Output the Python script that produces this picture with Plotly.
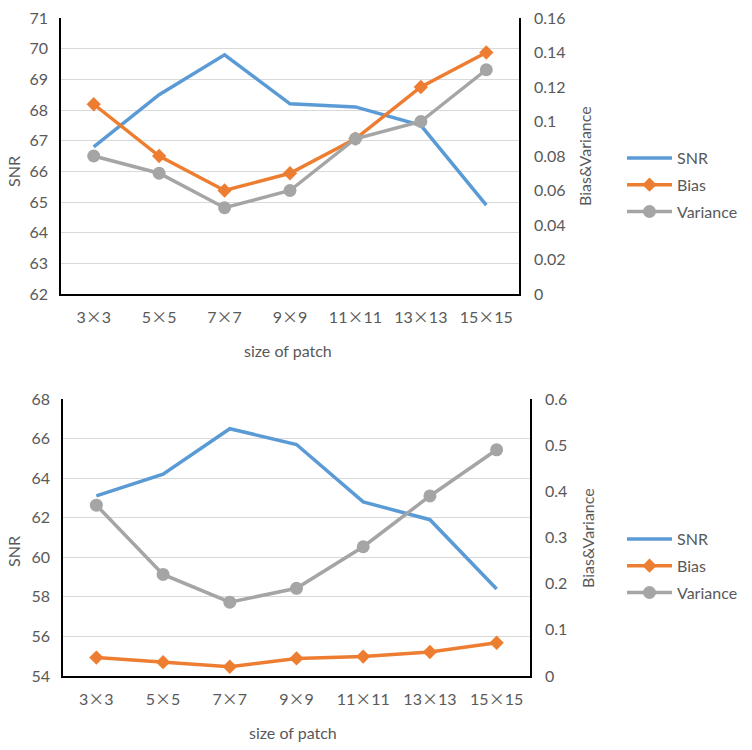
import plotly.graph_objects as go

categories = ["3×3", "5×5", "7×7", "9×9", "11×11", "13×13", "15×15"]

# top chart
snr_top = [66.8, 68.5, 69.8, 68.2, 68.1, 67.5, 64.9]
bias_top = [0.11, 0.08, 0.06, 0.07, 0.09, 0.12, 0.14]
var_top = [0.08, 0.07, 0.05, 0.06, 0.09, 0.10, 0.13]

# bottom chart
snr_bot = [63.1, 64.2, 66.5, 65.7, 62.8, 61.9, 58.4]
bias_bot = [0.04, 0.03, 0.02, 0.038, 0.042, 0.052, 0.072]
var_bot = [0.37, 0.22, 0.16, 0.19, 0.28, 0.39, 0.49]

BLUE = "#5B9BD5"
ORANGE = "#ED7D31"
GRAY = "#A5A5A5"
TXT = "#595959"
GRID = "#D9D9D9"
FONT = "Lato, Open Sans, sans-serif"

# tick labels: the multiplication sign rendered with a CJK (full-width) font
ticktext = [c.replace("×", "<span style='font-family:Noto Sans CJK SC'>×</span>") for c in categories]

fig = go.Figure()

def add_set(xa, ya_left, ya_right, snr, bias, var, legend):
    fig.add_trace(go.Scatter(x=categories, y=snr, xaxis=xa, yaxis=ya_left, name="SNR",
                             mode="lines", line=dict(color=BLUE, width=3.5),
                             legend=legend, legendgroup=legend + "a"))
    fig.add_trace(go.Scatter(x=categories, y=bias, xaxis=xa, yaxis=ya_right, name="Bias",
                             mode="lines+markers", line=dict(color=ORANGE, width=3.5),
                             marker=dict(symbol="diamond", size=11, color=ORANGE),
                             legend=legend, legendgroup=legend + "b"))
    fig.add_trace(go.Scatter(x=categories, y=var, xaxis=xa, yaxis=ya_right, name="Variance",
                             mode="lines+markers", line=dict(color=GRAY, width=3.5),
                             marker=dict(symbol="circle", size=13, color=GRAY),
                             legend=legend, legendgroup=legend + "c"))

add_set("x", "y", "y2", snr_top, bias_top, var_top, "legend")
add_set("x2", "y3", "y4", snr_bot, bias_bot, var_bot, "legend2")

tickfont = dict(family=FONT, size=16, color=TXT)

xcommon = dict(type="category", range=[-0.5, 6.5], showline=True, linecolor="black",
               linewidth=1.5, showgrid=False, tickfont=tickfont, ticks="",
               tickmode="array", tickvals=categories, ticktext=ticktext,
               ticklabelstandoff=8, zeroline=False, automargin=False)
ycommon = dict(showline=True, linecolor="black", linewidth=1.5, tickfont=tickfont,
               ticks="", zeroline=False, automargin=False)

top_x = [61 / 752, 519 / 752]
top_y = [1 - 294 / 750, 1 - 18 / 750]
bot_x = [63 / 752, 530 / 752]
bot_y = [1 - 676 / 750, 1 - 399 / 750]

fig.update_layout(
    width=752, height=750,
    margin=dict(l=0, r=0, t=0, b=0, autoexpand=False),
    paper_bgcolor="white", plot_bgcolor="white",
    font=dict(family=FONT, size=16, color=TXT),
    xaxis=dict(domain=top_x, anchor="y", **xcommon),
    yaxis=dict(domain=top_y, anchor="x", range=[62, 71], dtick=1, tick0=62,
               showgrid=True, gridcolor=GRID, gridwidth=1, ticklabelstandoff=8, **ycommon),
    yaxis2=dict(overlaying="y", side="right", anchor="x", range=[0, 0.16], dtick=0.02, tick0=0,
                showgrid=False, ticklabelstandoff=10, **ycommon),
    xaxis2=dict(domain=bot_x, anchor="y3", **xcommon),
    yaxis3=dict(domain=bot_y, anchor="x2", range=[54, 68], dtick=2, tick0=54,
                showgrid=True, gridcolor=GRID, gridwidth=1, ticklabelstandoff=8, **ycommon),
    yaxis4=dict(overlaying="y3", side="right", anchor="x2", range=[0, 0.6], dtick=0.1, tick0=0,
                showgrid=False, ticklabelstandoff=10, **ycommon),
    legend=dict(x=622 / 752, y=1 - 185 / 750, xanchor="left", yanchor="middle",
                font=dict(family=FONT, size=16, color=TXT), itemwidth=45,
                tracegroupgap=3, bgcolor="rgba(0,0,0,0)"),
    legend2=dict(x=622 / 752, y=1 - 566 / 750, xanchor="left", yanchor="middle",
                 font=dict(family=FONT, size=16, color=TXT), itemwidth=45,
                 tracegroupgap=3, bgcolor="rgba(0,0,0,0)"),
)

ann = []
def title(text, x, y, angle=0):
    ann.append(dict(text=text, x=x / 752, y=1 - y / 750, xref="paper", yref="paper",
                    showarrow=False, textangle=angle, xanchor="center", yanchor="middle",
                    font=dict(family=FONT, size=16, color=TXT)))

title("SNR", 13, 172, -90)
title("Bias&amp;Variance", 585, 156, -90)
title("size of patch", 288, 350)
title("SNR", 13, 552, -90)
title("Bias&amp;Variance", 587, 538, -90)
title("size of patch", 293, 732)
fig.update_layout(annotations=ann)

fig.write_html("out.html", config={"displayModeBar": False},
               post_script="document.body.style.margin='0px';")
